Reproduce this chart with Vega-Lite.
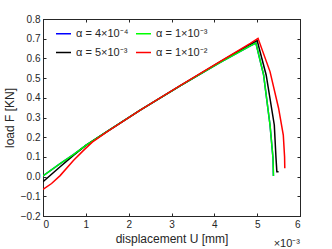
{
  "$schema": "https://vega.github.io/schema/vega-lite/v6.json",
  "width": 257,
  "height": 197,
  "autosize": {"type": "none"},
  "padding": {"left": 43, "top": 19, "right": 32, "bottom": 33},
  "config": {
    "font": "Liberation Sans",
    "view": {"stroke": "#262626", "strokeWidth": 1},
    "axis": {
      "labelFont": "Liberation Sans",
      "titleFont": "Liberation Sans",
      "labelFontSize": 10,
      "titleFontSize": 12,
      "titleFontWeight": "normal",
      "labelColor": "#262626",
      "titleColor": "#262626",
      "domainColor": "#262626",
      "tickColor": "#262626",
      "domainWidth": 1,
      "grid": false,
      "tickSize": -3,
      "labelPadding": 6
    }
  },
  "datasets": {
    "curves": [
      {"s": "α = 4×10⁻⁴", "o": 0, "U": 0.0, "F": 0.003},
      {"s": "α = 4×10⁻⁴", "o": 1, "U": 0.4, "F": 0.066},
      {"s": "α = 4×10⁻⁴", "o": 2, "U": 0.71, "F": 0.112},
      {"s": "α = 4×10⁻⁴", "o": 3, "U": 1.0, "F": 0.158},
      {"s": "α = 4×10⁻⁴", "o": 4, "U": 1.5, "F": 0.229},
      {"s": "α = 4×10⁻⁴", "o": 5, "U": 2.27, "F": 0.337},
      {"s": "α = 4×10⁻⁴", "o": 6, "U": 3.2, "F": 0.46},
      {"s": "α = 4×10⁻⁴", "o": 7, "U": 4.14, "F": 0.58},
      {"s": "α = 4×10⁻⁴", "o": 8, "U": 4.84, "F": 0.664},
      {"s": "α = 4×10⁻⁴", "o": 9, "U": 4.97, "F": 0.678},
      {"s": "α = 4×10⁻⁴", "o": 10, "U": 5.15, "F": 0.516},
      {"s": "α = 4×10⁻⁴", "o": 11, "U": 5.3, "F": 0.262},
      {"s": "α = 4×10⁻⁴", "o": 12, "U": 5.37, "F": 0.093},
      {"s": "α = 4×10⁻⁴", "o": 13, "U": 5.38, "F": 0.003},

      {"s": "α = 5×10⁻³", "o": 0, "U": 0.0, "F": -0.026},
      {"s": "α = 5×10⁻³", "o": 1, "U": 0.4, "F": 0.05},
      {"s": "α = 5×10⁻³", "o": 2, "U": 0.71, "F": 0.108},
      {"s": "α = 5×10⁻³", "o": 3, "U": 1.0, "F": 0.158},
      {"s": "α = 5×10⁻³", "o": 4, "U": 1.5, "F": 0.229},
      {"s": "α = 5×10⁻³", "o": 5, "U": 2.27, "F": 0.337},
      {"s": "α = 5×10⁻³", "o": 6, "U": 3.2, "F": 0.461},
      {"s": "α = 5×10⁻³", "o": 7, "U": 4.14, "F": 0.583},
      {"s": "α = 5×10⁻³", "o": 8, "U": 4.84, "F": 0.672},
      {"s": "α = 5×10⁻³", "o": 9, "U": 5.0, "F": 0.69},
      {"s": "α = 5×10⁻³", "o": 10, "U": 5.21, "F": 0.516},
      {"s": "α = 5×10⁻³", "o": 11, "U": 5.4, "F": 0.262},
      {"s": "α = 5×10⁻³", "o": 12, "U": 5.44, "F": 0.093},
      {"s": "α = 5×10⁻³", "o": 13, "U": 5.46, "F": 0.025},
      {"s": "α = 5×10⁻³", "o": 14, "U": 5.5, "F": 0.025},

      {"s": "α = 1×10⁻³", "o": 0, "U": 0.0, "F": 0.003},
      {"s": "α = 1×10⁻³", "o": 1, "U": 0.4, "F": 0.066},
      {"s": "α = 1×10⁻³", "o": 2, "U": 0.71, "F": 0.112},
      {"s": "α = 1×10⁻³", "o": 3, "U": 1.0, "F": 0.158},
      {"s": "α = 1×10⁻³", "o": 4, "U": 1.5, "F": 0.229},
      {"s": "α = 1×10⁻³", "o": 5, "U": 2.27, "F": 0.337},
      {"s": "α = 1×10⁻³", "o": 6, "U": 3.2, "F": 0.46},
      {"s": "α = 1×10⁻³", "o": 7, "U": 4.14, "F": 0.58},
      {"s": "α = 1×10⁻³", "o": 8, "U": 4.84, "F": 0.664},
      {"s": "α = 1×10⁻³", "o": 9, "U": 4.97, "F": 0.678},
      {"s": "α = 1×10⁻³", "o": 10, "U": 5.15, "F": 0.516},
      {"s": "α = 1×10⁻³", "o": 11, "U": 5.3, "F": 0.262},
      {"s": "α = 1×10⁻³", "o": 12, "U": 5.37, "F": 0.093},
      {"s": "α = 1×10⁻³", "o": 13, "U": 5.38, "F": 0.003},

      {"s": "α = 1×10⁻²", "o": 0, "U": 0.0, "F": -0.065},
      {"s": "α = 1×10⁻²", "o": 1, "U": 0.2, "F": -0.035},
      {"s": "α = 1×10⁻²", "o": 2, "U": 0.4, "F": 0.005},
      {"s": "α = 1×10⁻²", "o": 3, "U": 0.71, "F": 0.082},
      {"s": "α = 1×10⁻²", "o": 4, "U": 0.94, "F": 0.132},
      {"s": "α = 1×10⁻²", "o": 5, "U": 1.15, "F": 0.175},
      {"s": "α = 1×10⁻²", "o": 6, "U": 1.5, "F": 0.228},
      {"s": "α = 1×10⁻²", "o": 7, "U": 2.27, "F": 0.337},
      {"s": "α = 1×10⁻²", "o": 8, "U": 3.2, "F": 0.462},
      {"s": "α = 1×10⁻²", "o": 9, "U": 4.14, "F": 0.585},
      {"s": "α = 1×10⁻²", "o": 10, "U": 4.84, "F": 0.676},
      {"s": "α = 1×10⁻²", "o": 11, "U": 5.02, "F": 0.702},
      {"s": "α = 1×10⁻²", "o": 12, "U": 5.3, "F": 0.533},
      {"s": "α = 1×10⁻²", "o": 13, "U": 5.5, "F": 0.347},
      {"s": "α = 1×10⁻²", "o": 14, "U": 5.61, "F": 0.211},
      {"s": "α = 1×10⁻²", "o": 15, "U": 5.64, "F": 0.1},
      {"s": "α = 1×10⁻²", "o": 16, "U": 5.645, "F": 0.042}
    ],
    "note": [{"U": 6, "F": -0.2, "t": "×10⁻³"}]
  },
  "layer": [
    {
      "data": {"name": "curves"},
      "mark": {"type": "line", "strokeWidth": 1.5, "clip": true},
      "encoding": {
        "x": {"field": "U", "type": "quantitative", "scale": {"domain": [0, 6], "nice": false},
          "axis": {"values": [0,1,2,3,4,5,6], "title": "displacement U [mm]", "titlePadding": 4}},
        "y": {"field": "F", "type": "quantitative", "scale": {"domain": [-0.2, 0.8], "nice": false, "zero": false},
          "axis": {"values": [-0.2,-0.1,0,0.1,0.2,0.3,0.4,0.5,0.6,0.7,0.8], "title": "load F [KN]", "titlePadding": 4}},
        "order": {"field": "o", "type": "quantitative"},
        "color": {"field": "s", "type": "nominal",
          "scale": {"domain": ["α = 4×10⁻⁴", "α = 5×10⁻³", "α = 1×10⁻³", "α = 1×10⁻²"],
                    "range": ["#0000ff", "#000000", "#00ff00", "#ff0000"]},
          "legend": {"title": null, "orient": "none", "legendX": 12, "legendY": 6, "columns": 2,
            "symbolType": "stroke", "symbolSize": 225, "symbolStrokeWidth": 1.5,
            "labelFontSize": 11, "labelColor": "#262626", "labelFont": "Liberation Sans",
            "columnPadding": 4, "rowPadding": 5, "labelOffset": 4}}
      }
    },
    {
      "data": {"name": "note"},
      "mark": {"type": "text", "align": "right", "baseline": "middle", "dy": 28, "fontSize": 11, "color": "#262626", "font": "Liberation Sans"},
      "encoding": {
        "x": {"field": "U", "type": "quantitative", "axis": {"orient": "top", "labels": false, "title": null, "values": [0,1,2,3,4,5,6]}},
        "y": {"field": "F", "type": "quantitative", "axis": {"orient": "right", "labels": false, "title": null, "values": [-0.2,-0.1,0,0.1,0.2,0.3,0.4,0.5,0.6,0.7,0.8]}},
        "text": {"field": "t"}
      }
    }
  ],
  "resolve": {"axis": {"x": "independent", "y": "independent"}}
}
